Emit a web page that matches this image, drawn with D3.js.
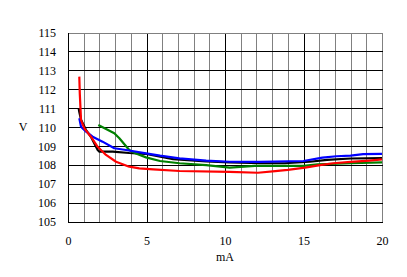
<!DOCTYPE html>
<html><head><meta charset="utf-8">
<script src="https://cdn.jsdelivr.net/npm/d3@7"></script>
<style>html,body{margin:0;padding:0;background:#fff;}svg{display:block;}</style>
</head><body>
<script>
const xTicks = [0, 5, 10, 15, 20];
const yTicks = [105, 106, 107, 108, 109, 110, 111, 112, 113, 114, 115];
const xLabel = "mA";
const yLabel = "V";

const blackX = [0.68,0.72,0.83,1.15,1.46,1.89,2.0,2.85,3.9,4.9,6.7,8.8,10.3,12.3,13.8,15.4,16.5,18,20];
const blackY = [111.0,110.8,110.4,109.85,109.5,108.8,108.71,108.71,108.64,108.6,108.32,108.2,108.15,108.1,108.1,108.18,108.28,108.35,108.37];
const greenX = [1.93,2.95,3.27,3.9,4.33,4.97,5.86,7.1,8.8,10.3,11.9,15,15.9,18,20];
const greenY = [110.12,109.68,109.42,108.8,108.62,108.41,108.22,108.1,108.0,107.87,107.96,107.96,108.04,108.1,108.15];
const blueX = [0.72,0.83,1.15,1.57,2.2,2.95,3.7,4.97,5.86,7.1,8.8,10.3,12.2,15,16.2,17.1,18,18.8,20];
const blueY = [110.47,110.03,109.77,109.5,109.24,108.89,108.8,108.62,108.5,108.36,108.24,108.18,108.17,108.22,108.4,108.47,108.5,108.58,108.6];
const redX = [0.72,0.75,0.83,1.04,1.46,1.89,2.42,3.06,3.9,4.54,5.43,7.1,10.3,12.1,13.2,14,15.1,16.05,16.9,18,19.2,20];
const redY = [112.67,111.8,110.38,109.94,109.5,108.97,108.54,108.18,107.92,107.83,107.78,107.69,107.65,107.6,107.68,107.75,107.87,108.0,108.1,108.17,108.24,108.3];

const series = [
  {x: blackX, y: blackY, color: "#000000"},
  {x: greenX, y: greenY, color: "#008000"},
  {x: blueX, y: blueY, color: "#0000ff"},
  {x: redX, y: redY, color: "#ff0000"}
];

const W = 407, H = 277;
const L = 68, R = 382, T = 32.5, B = 222;
const svg = d3.select("body").append("svg").attr("width", W).attr("height", H);
const x = d3.scaleLinear().domain([0, 20]).range([L, R]);
const y = d3.scaleLinear().domain([105, 115]).range([B, T]);
const font = "'Liberation Serif','Times New Roman',serif";

// vertical grid
const g = svg.append("g");
d3.range(1, 21).forEach(v => {
  const px = Math.round(x(v)) + 0.5;
  g.append("line").attr("x1", px).attr("x2", px).attr("y1", Math.round(T)).attr("y2", Math.round(B))
    .attr("stroke", (v % 5 === 0 && v !== 20) ? "#000" : "#808080").attr("stroke-width", 1);
});
// horizontal grid
d3.range(106, 116).forEach(v => {
  const py = Math.round(y(v)) + 0.5;
  g.append("line").attr("x1", Math.round(L)).attr("x2", Math.round(R) + 1).attr("y1", py).attr("y2", py)
    .attr("stroke", v === 115 ? "#808080" : "#000").attr("stroke-width", 1);
});
// axes lines
g.append("line").attr("x1", Math.round(L) + 0.5).attr("x2", Math.round(L) + 0.5)
  .attr("y1", Math.round(T)).attr("y2", Math.round(B) + 1).attr("stroke", "#000");
g.append("line").attr("x1", Math.round(L)).attr("x2", Math.round(R) + 1)
  .attr("y1", Math.round(B) + 0.5).attr("y2", Math.round(B) + 0.5).attr("stroke", "#000");

// tick labels via axes
const yAxis = d3.axisLeft(y).tickValues(yTicks).tickSize(0).tickPadding(12);
const ya = svg.append("g").attr("transform", `translate(${L},0)`).call(yAxis);
ya.select(".domain").remove();
ya.selectAll("text").attr("font-family", font).attr("font-size", 12).attr("fill", "#000");

const xAxis = d3.axisBottom(x).tickValues(xTicks).tickSize(0).tickPadding(14);
const xa = svg.append("g").attr("transform", `translate(0,${B})`).call(xAxis);
xa.select(".domain").remove();
xa.selectAll("text").attr("font-family", font).attr("font-size", 12).attr("fill", "#000");

svg.append("text").attr("x", 23).attr("y", 131).attr("text-anchor", "middle")
  .attr("font-family", font).attr("font-size", 12).text(yLabel);
svg.append("text").attr("x", x(10)).attr("y", 261).attr("text-anchor", "middle")
  .attr("font-family", font).attr("font-size", 12).text(xLabel);

// lines
const line = d3.line().x(d => x(d[0])).y(d => y(d[1]));
series.forEach(s => {
  svg.append("path").datum(s.x.map((v, i) => [v, s.y[i]]))
    .attr("d", line).attr("fill", "none").attr("stroke", s.color).attr("stroke-width", 2.2)
    .attr("stroke-linejoin", "round");
});
</script>
</body></html>
